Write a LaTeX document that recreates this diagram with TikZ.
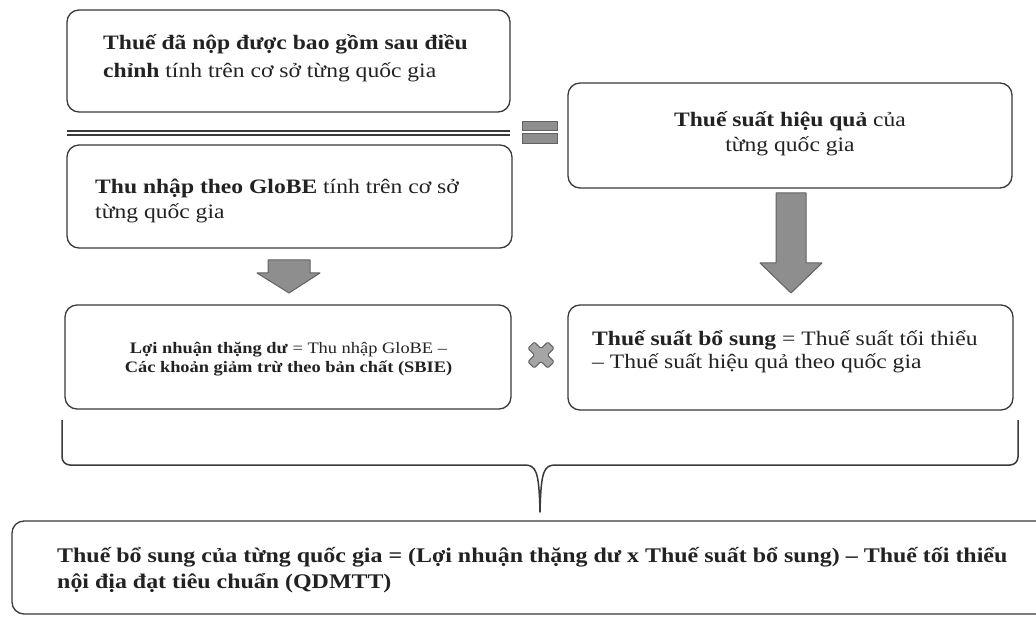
\documentclass[tikz,border=0pt]{standalone}
\usepackage{fontspec}
\setmainfont{Liberation Serif}[FakeStretch=1.15]
\definecolor{boxline}{HTML}{3A3A3A}
\definecolor{txt}{HTML}{222222}
\definecolor{arrfill}{HTML}{8E8E8E}
\definecolor{arrline}{HTML}{626262}
\tikzset{
  box/.style={draw=boxline, line width=1.3pt, rounded corners=12pt, rectangle, inner sep=0pt},
  ln/.style={inner sep=0pt, text=txt},
  blockarrow/.style={fill=arrfill, draw=arrline, line width=1pt, line join=round},
  sz21/.style={font=\fontsize{20.5}{25}\selectfont},
  szf/.style={font=\fontsize{20.8}{25}\selectfont},
  sz16/.style={font=\fontsize{16}{19}\selectfont},
}
\begin{document}
\begin{tikzpicture}[x=1pt,y=-1pt]
\useasboundingbox (0,0) rectangle (1036,620);
\fill[white] (0,0) rectangle (1036,620);
\clip (0,0) rectangle (1036,620);

% boxes
\node[box, minimum width=443pt, minimum height=102pt] (A) at (288.5,61) {};
\node[box, minimum width=445pt, minimum height=103pt] (B) at (289.5,196.5) {};
\node[box, minimum width=444pt, minimum height=105pt] (C) at (790,135.5) {};
\node[box, minimum width=446pt, minimum height=104pt] (D) at (288,357) {};
\node[box, minimum width=445pt, minimum height=105pt] (E) at (790.5,357.5) {};
\node[box, minimum width=1038pt, minimum height=93pt] (F) at (531,567.5) {};

% fraction bar (double line)
\coordinate (barL) at (67,131);
\coordinate (barR) at (510,131);
\draw[boxline, line width=1.2pt] (barL) -- (barR);
\draw[boxline, line width=1.2pt] ([yshift=-4pt]barL) -- ([yshift=-4pt]barR);

% equals sign
\node[fill=arrfill, draw=arrline, line width=0.8pt, minimum width=35pt, minimum height=9pt, inner sep=0pt] (eq1) at (539.5,125.5) {};
\node[fill=arrfill, draw=arrline, line width=0.8pt, minimum width=35pt, minimum height=10pt, inner sep=0pt] (eq2) at (539.5,138) {};

% times sign
\begin{scope}[shift={(541,355)}, rotate=45]
\draw[blockarrow, fill=arrfill!80!white, rounded corners=1.5pt]
 (4.5,14) -- (4.5,4.5) -- (14,4.5) -- (14,-4.5) -- (4.5,-4.5) -- (4.5,-14)
 -- (-4.5,-14) -- (-4.5,-4.5) -- (-14,-4.5) -- (-14,4.5) -- (-4.5,4.5) -- (-4.5,14) -- cycle;
\end{scope}
\coordinate (times) at (541,355);

% small block arrow B -> D
\draw[blockarrow] (268,260) -- (310,260) -- (310,273) -- (320,273) -- (289,293)
  -- (257,273) -- (268,273) -- cycle;
% big block arrow C -> E
\draw[blockarrow] (776,193) -- (806,193) -- (806,263) -- (822,263) -- (791,293)
  -- (760,263) -- (776,263) -- cycle;

% bracket
\coordinate (brL) at (62,420);
\coordinate (brR) at (1018,420);
\coordinate (brTip) at (540,512);
\draw[boxline, line width=1.5pt, line join=round]
  (brL) -- (62,457) to[out=-90,in=180] (70,465) -- (524,465)
  .. controls (536,465) and (539,470) .. (brTip)
  .. controls (541,470) and (544,465) .. (556,465) -- (1010,465)
  to[out=0,in=-90] (1018,457) -- (brR);

% texts
\node[ln, sz21, anchor=base west] (a1) at (103,50) {\textbf{Thuế đã nộp được bao gồm sau điều}};
\node[ln, sz21, anchor=base west] (a2) at (103,78) {\textbf{chỉnh} tính trên cơ sở từng quốc gia};

\node[ln, sz21, anchor=base] (c1) at (790,127) {\textbf{Thuế suất hiệu quả} của};
\node[ln, sz21, anchor=base] (c2) at (790,152) {từng quốc gia};

\node[ln, sz21, anchor=base west] (b1) at (95,194) {\textbf{Thu nhập theo GloBE} tính trên cơ sở};
\node[ln, sz21, anchor=base west] (b2) at (95,219) {từng quốc gia};

\node[ln, sz16, anchor=base] (d1) at (288.5,353) {\textbf{Lợi nhuận thặng dư} = Thu nhập GloBE –};
\node[ln, sz16, anchor=base] (d2) at (288.5,372) {\textbf{Các khoản giảm trừ theo bản chất (SBIE)}};

\node[ln, sz21, anchor=base west] (e1) at (592,345) {\textbf{Thuế suất bổ sung} = Thuế suất tối thiểu};
\node[ln, sz21, anchor=base west] (e2) at (592,368) {– Thuế suất hiệu quả theo quốc gia};

\node[ln, szf, anchor=base west] (f1) at (57,562) {\textbf{Thuế bổ sung của từng quốc gia = (Lợi nhuận thặng dư x Thuế suất bổ sung) – Thuế tối thiểu}};
\node[ln, szf, anchor=base west] (f2) at (57,588) {\textbf{nội địa đạt tiêu chuẩn (QDMTT)}};
\end{tikzpicture}
\end{document}
